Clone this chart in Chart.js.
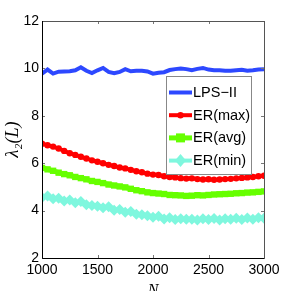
<!DOCTYPE html>
<html>
<head>
<meta charset="utf-8">
<script src="https://cdn.jsdelivr.net/npm/chart.js@4.4.0/dist/chart.umd.min.js"></script>
<style>
  html, body { margin: 0; padding: 0; background: #fff; }
  #wrap { width: 291px; height: 291px; }
</style>
</head>
<body>
<div id="wrap"><canvas id="lambdaChart" width="291" height="291"></canvas></div>
<script>
// N values along the x axis
const nValues = [1000, 1050, 1100, 1150, 1200, 1250, 1300, 1350, 1400, 1450,
  1500, 1550, 1600, 1650, 1700, 1750, 1800, 1850, 1900, 1950,
  2000, 2050, 2100, 2150, 2200, 2250, 2300, 2350, 2400, 2450,
  2500, 2550, 2600, 2650, 2700, 2750, 2800, 2850, 2900, 2950, 3000];

const lpsValues = [9.78, 9.95, 9.78, 9.86, 9.87, 9.88, 9.92, 10.05, 9.9, 9.8,
  9.92, 10.02, 9.85, 9.8, 9.85, 9.97, 9.88, 9.9, 9.9, 9.87,
  9.78, 9.82, 9.84, 9.93, 9.97, 10.0, 9.97, 9.92, 9.98, 10.02,
  9.95, 9.92, 9.92, 9.9, 9.9, 9.92, 9.94, 9.9, 9.92, 9.95, 9.96];

const erMaxValues = [6.82, 6.76, 6.7, 6.62, 6.52, 6.42, 6.35, 6.27, 6.2, 6.12,
  6.06, 6.0, 5.93, 5.88, 5.82, 5.78, 5.72, 5.66, 5.62, 5.56,
  5.52, 5.5, 5.45, 5.42, 5.4, 5.37, 5.35, 5.36, 5.33, 5.31,
  5.32, 5.3, 5.31, 5.33, 5.34, 5.36, 5.38, 5.4, 5.42, 5.45, 5.47];

const erAvgValues = [5.8, 5.74, 5.68, 5.6, 5.54, 5.49, 5.42, 5.37, 5.32, 5.25,
  5.21, 5.16, 5.1, 5.06, 5.02, 4.98, 4.92, 4.86, 4.82, 4.77,
  4.74, 4.72, 4.7, 4.66, 4.65, 4.64, 4.62, 4.63, 4.65, 4.64,
  4.66, 4.68, 4.69, 4.7, 4.71, 4.73, 4.74, 4.76, 4.77, 4.79, 4.81];

const erMinValues = [4.55, 4.62, 4.5, 4.52, 4.4, 4.45, 4.33, 4.38, 4.25, 4.22,
  4.18, 4.12, 4.16, 4.02, 4.05, 3.93, 3.96, 3.85, 3.83, 3.78,
  3.72, 3.76, 3.65, 3.7, 3.62, 3.66, 3.63, 3.64, 3.6, 3.66,
  3.62, 3.67, 3.6, 3.66, 3.63, 3.68, 3.62, 3.69, 3.64, 3.7, 3.68];

const seriesLabels = ['LPS\u2212II', 'ER(max)', 'ER(avg)', 'ER(min)'];
const seriesColors = ['#2d48ff', '#ff0000', '#66ff00', '#7ff7de'];
const xTicks = [1000, 1500, 2000, 2500, 3000];
const yTicks = [2, 4, 6, 8, 10, 12];

function toPoints(vals) {
  return nValues.map((n, i) => ({ x: n, y: vals[i] }));
}

// inner tick marks, box and the legend inside the plot (matlab look)
const matlabFrame = {
  id: 'matlabFrame',
  afterDatasetsDraw(chart) {
    const ctx = chart.ctx;
    const a = chart.chartArea;
    const xs = chart.scales.x, ys = chart.scales.y;
    ctx.save();
    ctx.lineWidth = 1;
    ctx.strokeStyle = '#777';
    xTicks.slice(1, -1).forEach(v => {
      const px = Math.round(xs.getPixelForValue(v)) + 0.5;
      ctx.beginPath();
      ctx.moveTo(px, a.bottom); ctx.lineTo(px, a.bottom - 3);
      ctx.moveTo(px, a.top); ctx.lineTo(px, a.top + 3);
      ctx.stroke();
    });
    yTicks.slice(1, -1).forEach(v => {
      const py = Math.round(ys.getPixelForValue(v)) + 0.5;
      ctx.beginPath();
      ctx.moveTo(a.left, py); ctx.lineTo(a.left + 3, py);
      ctx.moveTo(a.right, py); ctx.lineTo(a.right - 3, py);
      ctx.stroke();
    });
    // box
    ctx.strokeStyle = '#555';
    ctx.strokeRect(Math.round(a.left) + 0.5, Math.round(a.top) + 0.5,
      Math.round(a.right - a.left), Math.round(a.bottom - a.top));
    ctx.strokeStyle = '#000';
    ctx.beginPath();
    ctx.moveTo(Math.round(a.left) + 0.5, a.top);
    ctx.lineTo(Math.round(a.left) + 0.5, a.bottom + 0.5);
    ctx.lineTo(a.right, Math.round(a.bottom) + 0.5);
    ctx.stroke();

    // legend
    const bx = 166, by = 76, bw = 85, bh = 98;
    ctx.fillStyle = '#fff';
    ctx.fillRect(bx, by, bw, bh);
    ctx.strokeStyle = '#888';
    ctx.strokeRect(bx + 0.5, by + 0.5, bw, bh);
    ctx.font = '14.5px "Liberation Sans", Arial, sans-serif';
    ctx.textBaseline = 'middle';
    chart.data.datasets.forEach((ds, i) => {
      const cy = by + 16.5 + i * 22.7;
      ctx.strokeStyle = ds.borderColor;
      ctx.lineWidth = ds.borderWidth;
      ctx.beginPath();
      ctx.moveTo(bx + 3, cy); ctx.lineTo(bx + 26, cy);
      ctx.stroke();
      if (ds.pointRadius > 0) {
        ctx.fillStyle = ds.pointBackgroundColor;
        const r = ds.pointRadius, mx = bx + 14.5;
        ctx.beginPath();
        if (ds.pointStyle === 'rect') {
          ctx.rect(mx - r, cy - r, r * 2, r * 2);
        } else if (ds.pointStyle === 'rectRot') {
          ctx.moveTo(mx, cy - r - 1); ctx.lineTo(mx + r, cy);
          ctx.lineTo(mx, cy + r + 1); ctx.lineTo(mx - r, cy);
          ctx.closePath();
        } else {
          ctx.arc(mx, cy, r, 0, Math.PI * 2);
        }
        ctx.fill();
      }
      ctx.fillStyle = '#000';
      ctx.fillText(ds.label, bx + 27, cy + 0.5);
    });
    ctx.restore();
  }
};

new Chart(document.getElementById('lambdaChart'), {
  type: 'line',
  data: {
    datasets: [
      { label: seriesLabels[0], data: toPoints(lpsValues), borderColor: seriesColors[0],
        borderWidth: 4, pointRadius: 0, pointStyle: 'circle', pointBackgroundColor: seriesColors[0] },
      { label: seriesLabels[1], data: toPoints(erMaxValues), borderColor: seriesColors[1],
        borderWidth: 4, pointRadius: 3.2, pointStyle: 'circle', pointBackgroundColor: seriesColors[1], pointBorderWidth: 0 },
      { label: seriesLabels[2], data: toPoints(erAvgValues), borderColor: seriesColors[2],
        borderWidth: 5, pointRadius: 4.5, pointStyle: 'rect', pointBackgroundColor: seriesColors[2], pointBorderWidth: 0 },
      { label: seriesLabels[3], data: toPoints(erMinValues), borderColor: seriesColors[3],
        borderWidth: 4, pointRadius: 5.5, pointStyle: 'rectRot', pointBackgroundColor: seriesColors[3], pointBorderWidth: 0 }
    ]
  },
  options: {
    responsive: false,
    animation: false,
    events: [],
    layout: { padding: { top: 21, right: 27, left: 0, bottom: 0 } },
    elements: { line: { tension: 0 } },
    plugins: { legend: { display: false }, tooltip: { enabled: false } },
    scales: {
      x: {
        type: 'linear', min: 1000, max: 3000,
        afterBuildTicks: s => { s.ticks = xTicks.map(v => ({ value: v })); },
        afterFit: s => { s.height = 33; },
        grid: { display: false, drawTicks: false },
        border: { display: false },
        ticks: { padding: 4, color: '#000', maxRotation: 0,
          callback: v => String(v),
          font: { size: 14, family: '"Liberation Sans", Arial, sans-serif' } },
        title: { display: true, text: 'N', color: '#000', padding: { top: 0, bottom: -9 },
          font: { size: 16, style: 'italic', family: '"Liberation Serif", serif' } }
      },
      y: {
        min: 2, max: 12,
        afterBuildTicks: s => { s.ticks = yTicks.map(v => ({ value: v })); },
        afterFit: s => { s.width = 42; },
        grid: { display: false, drawTicks: false },
        border: { display: false },
        ticks: { padding: 3, color: '#000', callback: v => String(v),
          font: { size: 14, family: '"Liberation Sans", Arial, sans-serif' } },
        title: { display: true, text: '\u03bb\u2082(L)', color: '#000', padding: { top: 2, bottom: 0 },
          font: { size: 18, style: 'italic', family: '"Liberation Serif", serif' } }
      }
    }
  },
  plugins: [matlabFrame]
});
</script>
</body>
</html>
